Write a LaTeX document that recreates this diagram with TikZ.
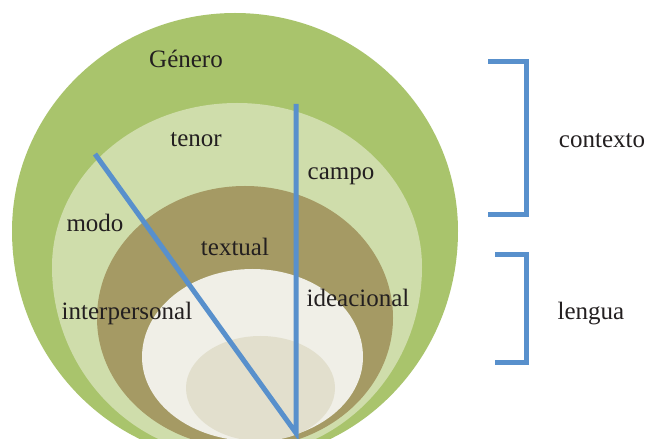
\documentclass[tikz,border=0pt]{standalone}
\usepackage{fontspec}
\setmainfont{Liberation Serif}

\definecolor{colGenero}{RGB}{169,196,108}
\definecolor{colContexto}{RGB}{207,221,171}
\definecolor{colTextual}{RGB}{165,154,100}
\definecolor{colLengua}{RGB}{240,239,231}
\definecolor{colCentro}{RGB}{226,223,205}
\definecolor{colBarra}{RGB}{88,144,204}
\definecolor{colTexto}{RGB}{35,31,32}

\tikzset{
        etiqueta/.style={font=\fontsize{25}{30}\selectfont, text=colTexto, anchor=base, inner sep=0pt},
        barra/.style={draw=colBarra, line width=5pt}
}

\begin{document}
\begin{tikzpicture}[x=1pt, y=1pt]
        \clip (0,0) rectangle (648,439);
        \fill[white] (0,0) rectangle (648,439);

        \foreach \cx/\cy/\rx/\ryt/\ryb/\col in {235/208/223/218/230/colGenero,
                                               237/172/185/164/190/colContexto,
                                               245/121/148/132/130/colTextual,
                                               252.5/82/110.5/88/84/colLengua,
                                               260.5/51/74.5/52/53/colCentro}
                \fill[\col] (\cx-\rx,\cy) arc[start angle=180, end angle=0, x radius=\rx, y radius=\ryt]
                        arc[start angle=0, end angle=-180, x radius=\rx, y radius=\ryb] -- cycle;

        \node[etiqueta] (genero) at (186,371) {Género};
        \node[etiqueta] (tenor) at (196,292) {tenor};
        \node[etiqueta] (campo) at (341,259) {campo};
        \node[etiqueta] (modo) at (95,207) {modo};
        \node[etiqueta] (textual) at (235,183) {textual};
        \node[etiqueta] (interp) at (127,119) {interpersonal};
        \node[etiqueta] (ideac) at (358,132) {ideacional};
        \node[etiqueta] (contexto) at (602,291) {contexto};
        \node[etiqueta] (lengua) at (591,119) {lengua};

        \coordinate (modoFin) at (95,285);
        \coordinate (vertice) at (296,6);
        \coordinate (campoFin) at (296,335);
        \draw[barra, miter limit=20] (modoFin) -- (vertice) -- (campoFin);

        \coordinate (c1) at (488,377);
        \coordinate (c2) at (526,377);
        \coordinate (c3) at (526,224);
        \coordinate (c4) at (488,224);
        \draw[barra] (c1) -- (c2) -- (c3) -- (c4);

        \coordinate (l1) at (495,184);
        \coordinate (l2) at (526,184);
        \coordinate (l3) at (526,76);
        \coordinate (l4) at (495,76);
        \draw[barra] (l1) -- (l2) -- (l3) -- (l4);
\end{tikzpicture}
\end{document}
